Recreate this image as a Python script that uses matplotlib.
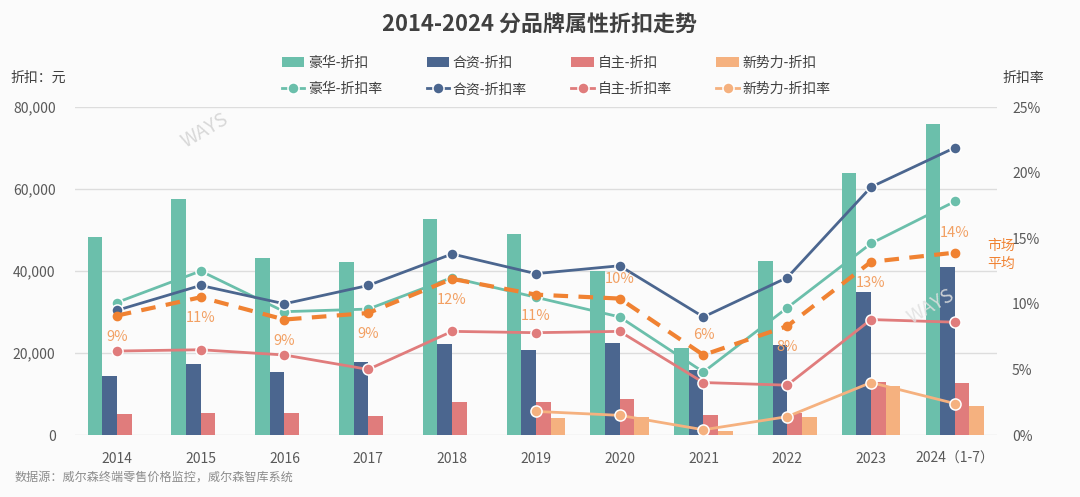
import matplotlib.pyplot as plt
import numpy as np

plt.rcParams['font.family'] = ['Noto Sans CJK SC', 'DejaVu Sans']

years = ["2014", "2015", "2016", "2017", "2018", "2019", "2020", "2021", "2022", "2023", "2024（1-7）"]

# discount amount (yuan)
lux_disc = [48300, 57600, 43200, 42200, 52700, 49000, 40000, 21200, 42400, 63900, 75900]
jv_disc = [14400, 17300, 15400, 17800, 22200, 20700, 22400, 15900, 22000, 34900, 41000]
own_disc = [5100, 5400, 5400, 4600, 8000, 8000, 8800, 4900, 5400, 12900, 12700]
new_disc = [0, 0, 0, 0, 0, 4100, 4400, 1000, 4400, 12000, 7100]

# discount rate (%)
lux_rate = [10.1, 12.5, 9.4, 9.6, 12.0, 10.5, 9.0, 4.8, 9.7, 14.6, 17.8]
jv_rate = [9.5, 11.4, 10.0, 11.4, 13.8, 12.3, 12.9, 9.0, 12.0, 18.9, 21.9]
own_rate = [6.4, 6.5, 6.1, 5.0, 7.9, 7.8, 7.9, 4.0, 3.8, 8.8, 8.6]
new_rate = [None, None, None, None, None, 1.8, 1.5, 0.4, 1.4, 4.0, 2.4]
avg_rate = [9.1, 10.5, 8.8, 9.3, 11.9, 10.7, 10.4, 6.1, 8.3, 13.2, 13.9]
avg_labels = ["9%", "11%", "9%", "9%", "12%", "11%", "10%", "6%", "8%", "13%", "14%"]
label_above = [False, False, False, False, False, False, True, True, False, False, True]

c_lux = "#6bbfab"
c_jv = "#4b668f"
c_own = "#e07c7c"
c_new = "#f5b17f"
c_avg = "#f08232"
c_txt = "#f2a063"

fig = plt.figure(figsize=(10.8, 4.97), dpi=100, facecolor="#fbfbfb")
ax = fig.add_axes([0.0694, 0.1247, 0.8535, 0.66])
ax.set_facecolor("#fbfbfb")
ax2 = ax.twinx()

x = np.arange(len(years))
w = 0.175
b1 = ax.bar(x - 1.5 * w, lux_disc, w, color=c_lux, label="豪华-折扣")
b2 = ax.bar(x - 0.5 * w, jv_disc, w, color=c_jv, label="合资-折扣")
b3 = ax.bar(x + 0.5 * w, own_disc, w, color=c_own, label="自主-折扣")
b4 = ax.bar(x + 1.5 * w, new_disc, w, color=c_new, label="新势力-折扣")

ax.set_xlim(-0.5, len(years) - 0.5)
ax.set_ylim(0, 80000)
ax.set_yticks([0, 20000, 40000, 60000, 80000])
ax.set_yticklabels(["0", "20,000", "40,000", "60,000", "80,000"])
ax.grid(axis="y", color="#dddddd", lw=1)
ax.set_axisbelow(True)
ax.set_xticks(x)
ax.set_xticklabels(years)
for s in ax.spines.values():
    s.set_visible(False)
for s in ax2.spines.values():
    s.set_visible(False)
ax.tick_params(axis="y", length=0, labelsize=10, labelcolor="#595959", pad=14)
ax.tick_params(axis="x", length=0, labelsize=10, labelcolor="#595959", pad=12)

def rate_line(vals, color, label):
    xs = [i for i, v in enumerate(vals) if v is not None]
    ys = [v for v in vals if v is not None]
    l, = ax2.plot(xs, ys, color=color, lw=2, marker="o", markersize=8,
                  markeredgecolor="white", markeredgewidth=1.1, label=label)
    return l

l1 = rate_line(lux_rate, c_lux, "豪华-折扣率")
l2 = rate_line(jv_rate, c_jv, "合资-折扣率")
l3 = rate_line(own_rate, c_own, "自主-折扣率")
l4 = rate_line(new_rate, c_new, "新势力-折扣率")
ax2.plot(x, avg_rate, color=c_avg, lw=3, ls=(0, (3.5, 2.5)), marker="o", markersize=6)

for i, v in enumerate(avg_rate):
    dy = 1.5 if label_above[i] else -1.6
    ax2.text(i, v + dy, avg_labels[i], ha="center", va="center", fontsize=10.5, color=c_txt)

ax2.set_ylim(0, 25)
ax2.set_yticks([0, 5, 10, 15, 20, 25])
ax2.set_yticklabels(["0%", "5%", "10%", "15%", "20%", "25%"])
ax2.tick_params(length=0, labelsize=10, labelcolor="#595959", pad=11)

fig.text(987 / 1080, 1 - 255 / 497, "市场\n平均", color=c_avg, fontsize=10,
         ha="left", va="center", linespacing=1.3)

fig.text(0.5, 1 - 25 / 497, "2014-2024 分品牌属性折扣走势", ha="center", va="center",
         fontsize=15.8, fontweight="bold", color="#404040")
fig.text(10 / 1080, 1 - 78 / 497, "折扣：元", ha="left", va="center", fontsize=10, color="#404040")
fig.text(1044 / 1080, 1 - 78 / 497, "折扣率", ha="right", va="center", fontsize=10, color="#404040")
fig.text(15 / 1080, 1 - 477 / 497, "数据源：威尔森终端零售价格监控，威尔森智库系统",
         ha="left", va="center", fontsize=8.7, color="#8c8c8c")

# watermark
fig.text(205 / 1080, 1 - 130 / 497, "WAYS", rotation=30, fontsize=14, color="#d8d8d8",
         ha="center", va="center")
fig.text(931 / 1080, 1 - 306 / 497, "WAYS", rotation=30, fontsize=14, color="#e0e0e0",
         alpha=0.85, ha="center", va="center", zorder=10)

handles = [b1, l1, b2, l2, b3, l3, b4, l4]
fig.legend(handles=handles, labels=[h.get_label() for h in handles], ncol=4,
           loc="center", bbox_to_anchor=(0.515, 1 - 76 / 497), frameon=False,
           fontsize=10, columnspacing=3.2, handlelength=1.6, handletextpad=0.3,
           labelspacing=0.9, labelcolor="#404040")

fig.savefig("out.png", dpi=100, facecolor=fig.get_facecolor())
